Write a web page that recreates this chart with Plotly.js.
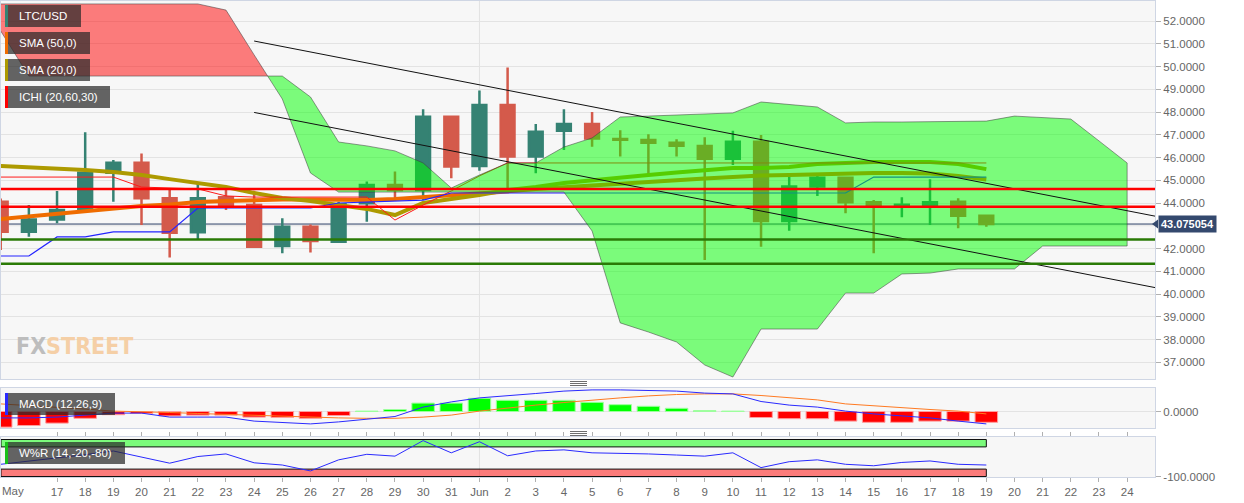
<!DOCTYPE html>
<html><head><meta charset="utf-8">
<script src="https://cdn.plot.ly/plotly-3.0.1.min.js"></script>
<style>html,body{margin:0;padding:0;background:#fff;}#chart{width:1244px;height:503px;}</style>
</head><body><div id="chart"></div>
<script>
// ---------- DATA ----------
const dates = ['2020-05-15','2020-05-16','2020-05-17','2020-05-18','2020-05-19','2020-05-20','2020-05-21','2020-05-22','2020-05-23','2020-05-24','2020-05-25','2020-05-26','2020-05-27','2020-05-28','2020-05-29','2020-05-30','2020-05-31','2020-06-01','2020-06-02','2020-06-03','2020-06-04','2020-06-05','2020-06-06','2020-06-07','2020-06-08','2020-06-09','2020-06-10','2020-06-11','2020-06-12','2020-06-13','2020-06-14','2020-06-15','2020-06-16','2020-06-17','2020-06-18','2020-06-19'];
const cloudDates = dates.concat(['2020-06-20','2020-06-21','2020-06-22','2020-06-23','2020-06-24']);
const open  = [44.06,42.74,43.28,43.72,45.33,45.77,44.21,42.71,44.25,43.91,42.11,42.96,42.30,43.99,44.79,44.57,47.79,45.63,48.31,46.04,47.18,47.47,46.81,46.77,46.65,46.51,45.95,46.69,43.21,44.72,45.11,44.03,43.90,43.91,44.06,43.44];
const high  = [44.20,43.91,44.53,47.11,45.89,46.18,44.57,44.87,44.72,44.54,43.33,43.06,44.05,44.94,45.38,48.12,47.82,48.94,49.96,47.47,48.12,48.00,47.20,47.02,46.80,46.89,47.18,46.99,45.23,45.31,45.16,44.13,44.25,45.04,44.21,43.44];
const low   = [41.93,42.52,43.11,43.69,44.06,43.03,41.61,42.40,43.69,42.03,41.79,41.82,42.25,43.18,44.21,44.13,45.09,45.42,44.57,45.31,46.33,46.47,46.04,45.23,46.04,41.49,45.67,42.08,42.78,44.31,43.55,41.79,43.37,43.03,42.89,42.96];
const close = [42.74,43.28,43.69,45.33,45.77,44.21,42.69,44.21,43.91,42.08,42.96,42.33,43.95,44.79,44.57,47.79,45.60,48.31,46.04,47.13,47.47,46.84,46.78,46.65,46.52,45.95,46.69,43.21,44.72,45.11,44.03,43.88,43.92,44.03,43.44,43.075054];
const sma50 = [43.30,43.41,43.52,43.63,43.74,43.87,43.93,44.04,44.09,44.13,44.15,44.15,44.13,44.13,44.18,44.26,44.33,44.40,44.51,44.62,44.70,44.79,44.88,44.95,45.01,45.08,45.14,45.21,45.23,45.27,45.32,45.32,45.32,45.30,45.19,45.03];
const sma20 = [45.63,45.58,45.52,45.45,45.36,45.23,45.05,44.88,44.70,44.44,44.22,44.09,43.91,43.74,43.47,44.00,44.18,44.35,44.57,44.70,44.88,45.01,45.12,45.23,45.34,45.45,45.54,45.54,45.58,45.71,45.76,45.80,45.80,45.80,45.71,45.49];
const tenkan = [45.14,45.14,45.14,45.14,45.14,44.70,44.66,44.62,44.31,44.26,44.26,44.26,44.26,44.26,43.25,43.91,44.53,45.19,45.76,45.76,45.76,45.76,45.76,45.76,45.76,45.76,45.76,45.76,45.76,45.76,45.76,45.76,45.76,45.76,45.76,45.76];
const kijun = [41.67,41.67,42.51,42.51,42.73,42.73,42.73,43.78,43.78,43.78,43.78,43.78,44.00,44.04,44.09,44.13,44.44,44.44,44.44,44.44,44.44,44.44,44.44,44.44,44.44,44.44,44.44,44.44,44.44,44.44,44.44,45.14,45.14,45.14,45.14,45.14];
const spanA = [51.56,49.58,49.58,49.58,49.58,49.58,49.58,49.58,49.58,49.58,49.58,48.66,46.68,46.51,46.29,45.76,44.66,45.23,45.76,45.76,46.46,46.86,47.78,47.82,47.87,47.91,47.96,48.44,48.33,48.22,47.52,47.56,47.56,47.58,47.60,47.60,47.82,47.76,47.69,46.73,45.76];
const spanB = [52.75,52.75,52.75,52.75,52.75,52.75,52.75,52.75,52.48,50.51,48.57,45.32,44.48,44.48,44.48,44.48,44.48,44.48,44.48,44.48,44.48,42.77,38.73,38.33,37.89,36.88,36.35,38.46,38.46,38.46,40.04,40.04,40.88,40.92,41.10,41.10,41.10,42.11,42.11,42.11,42.11];
const macd   = [-0.16,-0.16,-0.14,-0.09,-0.04,-0.04,-0.14,-0.14,-0.14,-0.24,-0.28,-0.31,-0.26,-0.20,-0.125,0.11,0.24,0.34,0.39,0.45,0.51,0.54,0.54,0.525,0.51,0.46,0.44,0.25,0.16,0.11,0.01,-0.06,-0.11,-0.16,-0.24,-0.31];
const signal = [0.19,0.15,0.11,0.06,0.01,0,-0.025,-0.05,-0.075,-0.10,-0.125,-0.15,-0.16,-0.17,-0.17,-0.14,-0.09,0.01,0.09,0.16,0.225,0.29,0.34,0.39,0.425,0.44,0.44,0.40,0.34,0.29,0.19,0.14,0.09,0.05,0.01,-0.06];
const hist   = [-0.39,-0.35,-0.29,-0.17,-0.08,-0.05,-0.11,-0.09,-0.09,-0.14,-0.15,-0.17,-0.10,0.01,0.05,0.21,0.21,0.33,0.28,0.28,0.28,0.23,0.17,0.13,0.08,0.02,0.01,-0.15,-0.18,-0.18,-0.24,-0.27,-0.27,-0.24,-0.24,-0.27];
const wpr    = [-67,-59,-51,-41,-31,-48,-64,-46,-39,-63,-69,-85,-55,-40,-45,-3,-36,-6,-44,-31,-28,-36,-37,-39,-42,-45,-36,-76,-60,-55,-67,-71,-62,-58,-67,-69];
const resistanceLevels = [44.62, 43.84];
const supportLevels = [42.40, 41.33];
const lastPrice = 43.075054;
const trendUpper = {x:['2020-05-24','2020-06-25'], y:[51.12, 43.42]};
const trendLower = {x:['2020-05-24','2020-06-25'], y:[47.98, 40.28]};
const priceTicks = [37,38,39,40,41,42,44,45,46,47,48,49,50,51,52];
const tickDates  = ['2020-05-15','2020-05-17','2020-05-18','2020-05-19','2020-05-20','2020-05-21','2020-05-22','2020-05-23','2020-05-24','2020-05-25','2020-05-26','2020-05-27','2020-05-28','2020-05-29','2020-05-30','2020-05-31','2020-06-01','2020-06-02','2020-06-03','2020-06-04','2020-06-05','2020-06-06','2020-06-07','2020-06-08','2020-06-09','2020-06-10','2020-06-11','2020-06-12','2020-06-13','2020-06-14','2020-06-15','2020-06-16','2020-06-17','2020-06-18','2020-06-19','2020-06-20','2020-06-21','2020-06-22','2020-06-23','2020-06-24'];
const tickLabels = ['','17','18','19','20','21','22','23','24','25','26','27','28','29','30','31','Jun','2','3','4','5','6','7','8','9','10','11','12','13','14','15','16','17','18','19','20','21','22','23','24'];
const legendItems = ['LTC/USD','SMA (50,0)','SMA (20,0)','ICHI (20,60,30)'];
const macdLabel = 'MACD (12,26,9)';
const wprLabel = 'W%R (14,-20,-80)';

// ---------- LAYOUT HELPERS ----------
const L=1, R=89, T=1, B=26;
const W = 1244-L-R, H = 503-T-B;
const px = x => (x-L)/W;
const py = y => (503-B-y)/H;
const FONT = 'Liberation Sans, Arial, sans-serif';
const xRange = ['2020-05-15 00:15','2020-06-24 23:45'];

// ---------- CLOUD SEGMENTS ----------
function cloudSegments(ds, a, b){
  const t = ds.map(d => Date.parse(d));
  const segs = [];
  let cur = {green: a[0] >= b[0], xa:[t[0]], ya:[a[0]], yb:[b[0]]};
  for (let i=0;i<t.length-1;i++){
    const d0 = a[i]-b[i], d1 = a[i+1]-b[i+1];
    if ((d0 >= 0) !== (d1 >= 0)){
      const f = d0/(d0-d1);
      const tc = t[i] + f*(t[i+1]-t[i]);
      const vc = a[i] + f*(a[i+1]-a[i]);
      cur.xa.push(tc); cur.ya.push(vc); cur.yb.push(vc);
      segs.push(cur);
      cur = {green: d1 >= 0, xa:[tc], ya:[vc], yb:[vc]};
    }
    cur.xa.push(t[i+1]); cur.ya.push(a[i+1]); cur.yb.push(b[i+1]);
  }
  segs.push(cur);
  return segs;
}

const traces = [];
traces.push({type:'candlestick', x:dates, open:open, high:high, low:low, close:close, xaxis:'x', yaxis:'y',
  increasing:{line:{color:'#358273', width:2.5}, fillcolor:'#358273'},
  decreasing:{line:{color:'#d45a4b', width:2.5}, fillcolor:'#d45a4b'},
  whiskerwidth:0, hoverinfo:'skip', showlegend:false});
traces.push({type:'scatter', mode:'lines', x:dates, y:sma50, line:{color:'#ef6c00', width:4}, hoverinfo:'skip', showlegend:false});
traces.push({type:'scatter', mode:'lines', x:dates, y:sma20, line:{color:'#ad9a00', width:4}, hoverinfo:'skip', showlegend:false});
traces.push({type:'scatter', mode:'lines', x:dates, y:tenkan, line:{color:'#ff1a1a', width:1}, hoverinfo:'skip', showlegend:false});
traces.push({type:'scatter', mode:'lines', x:dates, y:kijun, line:{color:'#2424ff', width:1.2}, hoverinfo:'skip', showlegend:false});
cloudSegments(cloudDates, spanA, spanB).forEach(s => {
  traces.push({type:'scatter', mode:'lines', x:s.xa.concat(s.xa.slice().reverse()), y:s.ya.concat(s.yb.slice().reverse()),
    fill:'toself', fillcolor: s.green ? 'rgba(0,255,0,0.5)' : 'rgba(255,0,0,0.5)',
    line:{color:'rgba(60,60,60,0.75)', width:0.7}, hoverinfo:'skip', showlegend:false});
});
[trendUpper, trendLower].forEach(tl => traces.push({type:'scatter', mode:'lines', x:tl.x, y:tl.y, line:{color:'#111', width:1}, hoverinfo:'skip', showlegend:false}));
// MACD
traces.push({type:'bar', x:dates, y:hist, xaxis:'x', yaxis:'y2',
  marker:{color: hist.map(v => v >= 0 ? '#00ff00' : '#ff0000'), line:{color: hist.map(v => v>=0 ? '#9dff9d' : '#ff9d9d'), width:1}},
  hoverinfo:'skip', showlegend:false});
traces.push({type:'scatter', mode:'lines', x:dates, y:signal, xaxis:'x', yaxis:'y2', line:{color:'#ff7a22', width:1}, hoverinfo:'skip', showlegend:false});
traces.push({type:'scatter', mode:'lines', x:dates, y:macd, xaxis:'x', yaxis:'y2', line:{color:'#2a2aff', width:1}, hoverinfo:'skip', showlegend:false});
// W%R
traces.push({type:'scatter', mode:'lines', x:dates, y:wpr, xaxis:'x', yaxis:'y3', line:{color:'#2a2aff', width:1}, hoverinfo:'skip', showlegend:false});

// ---------- SHAPES ----------
const shapes = [];
['y','y2','y3'].forEach(ax => shapes.push({type:'line', xref:'x', yref: ax+' domain', x0:'2020-06-01', x1:'2020-06-01', y0:0, y1:1, line:{color:'#e2e2e2', width:1}, layer:'below'}));
shapes.push({type:'line', xref:'paper', yref:'y', x0:0, x1:1, y0:43, y1:43, line:{color:'#e3e3e3', width:1}, layer:'below'});
shapes.push({type:'line', xref:'paper', yref:'y', x0:0, x1:1, y0:lastPrice, y1:lastPrice, line:{color:'#2c3e66', width:1}, layer:'below'});
shapes.push({type:'rect', xref:'x', yref:'y3', x0:xRange[0], x1:dates[dates.length-1], y0:-20, y1:0, fillcolor:'rgba(0,255,0,0.5)', line:{color:'#111', width:1}, layer:'below'});
shapes.push({type:'rect', xref:'x', yref:'y3', x0:xRange[0], x1:dates[dates.length-1], y0:-100, y1:-80, fillcolor:'rgba(255,0,0,0.5)', line:{color:'#111', width:1}, layer:'below'});
resistanceLevels.forEach(v => shapes.push({type:'line', xref:'paper', yref:'y', x0:0, x1:1, y0:v, y1:v, line:{color:'#ff0000', width:2.5}, layer:'above'}));
supportLevels.forEach(v => shapes.push({type:'line', xref:'paper', yref:'y', x0:0, x1:1, y0:v, y1:v, line:{color:'#2a7a06', width:2.5}, layer:'above'}));
shapes.push({type:'path', xref:'paper', yref:'y', path:`M ${px(1152)} ${lastPrice} L ${px(1158)} ${lastPrice+0.2} L ${px(1158)} ${lastPrice-0.2} Z`, fillcolor:'#34496e', line:{width:0}, layer:'above'});
[[381.5,383.5,385.5],[431.5,433.5,435.5]].forEach(g => g.forEach(y => shapes.push({type:'line', xref:'paper', yref:'paper', x0:px(570), x1:px(587), y0:py(y), y1:py(y), line:{color:'#6e6e6e', width:1}})));
const annotations = [];
// watermark
annotations.push({xref:'paper', yref:'paper', x:px(14), y:py(346), xanchor:'left', yanchor:'middle', showarrow:false,
  text:'<b><span style="color:#bdbdbd">FX</span><span style="color:#f5cfa6">STREET</span></b>',
  font:{family:'Liberation Sans Narrow, DejaVu Sans Condensed, Arial Narrow, sans-serif', size:23, color:'#bdbdbd'}});
const legendColors = ['#358273','#ef6c00','#ad9a00','#ff0000'];
const legendBoxes = [[5,81,5,27],[5,90,32,54],[5,90,59,81],[5,110,86,108]];
function addBox(b, color, text){
  shapes.push({type:'rect', xref:'paper', yref:'paper', x0:px(b[0]), x1:px(b[1]), y0:py(b[3]), y1:py(b[2]), fillcolor:'rgba(42,42,42,0.72)', line:{width:0}, layer:'above'});
  shapes.push({type:'rect', xref:'paper', yref:'paper', x0:px(b[0]), x1:px(b[0]+3), y0:py(b[3]), y1:py(b[2]), fillcolor:color, line:{width:0}, layer:'above'});
  annotations.push({xref:'paper', yref:'paper', x:px(b[0]+12), y:py((b[2]+b[3])/2), xanchor:'left', yanchor:'middle', text:text, showarrow:false, font:{family:FONT, size:11.5, color:'#ffffff'}});
}
legendItems.forEach((t,i) => addBox(legendBoxes[i], legendColors[i], t));
addBox([5,115,393,415], '#2a2aff', macdLabel);
addBox([5,125,442,464], '#19c019', wprLabel);
annotations.push({xref:'paper', yref:'paper', x:px(0), y:py(491), xanchor:'left', yanchor:'middle', text:'May', showarrow:false, font:{family:FONT, size:11.5, color:'#666'}});
annotations.push({xref:'paper', yref:'y', x:1, xshift:3, y:lastPrice, xanchor:'left', yanchor:'middle', text:'<b>'+lastPrice.toFixed(6)+'</b>', showarrow:false, bgcolor:'#34496e', borderpad:2, font:{family:FONT, size:11, color:'#ffffff'}});

const yCommon = {side:'right', anchor:'x', showline:true, mirror:true, linecolor:'#cfd6e4', gridcolor:'#e3e3e3', ticks:'outside', ticklen:5, tickcolor:'#b0b0b0', zeroline:false, tickfont:{family:FONT, size:11.5, color:'#666'}, fixedrange:true};

const layout = {
  width:1244, height:503, margin:{l:L, r:R, t:T, b:B}, paper_bgcolor:'#ffffff', plot_bgcolor:'#f7f7f7',
  showlegend:false, hovermode:false, boxgap:0.3, bargap:0.2,
  xaxis:{type:'date', range:xRange, anchor:'y3', tickvals:tickDates, ticktext:tickLabels, ticks:'outside', ticklen:4, tickcolor:'#b0b0b0',
    tickfont:{family:FONT, size:11.5, color:'#666'}, showgrid:false, showline:true, linecolor:'#cfd6e4', mirror:'all', zeroline:false, rangeslider:{visible:false}, fixedrange:true},
  yaxis: Object.assign({}, yCommon, {domain:[py(379),1], range:[36.264,52.879], tickvals:priceTicks, tickformat:'.4f'}),
  yaxis2: Object.assign({}, yCommon, {domain:[py(428),py(388)], range:[-0.4125,0.5875], tickvals:[0], ticktext:['0.0000']}),
  yaxis3: Object.assign({}, yCommon, {domain:[0,py(437)], range:[-101.35,6.76], tickvals:[-100], ticktext:['-100.0000']}),
  shapes:shapes, annotations:annotations
};
Plotly.newPlot('chart', traces, layout, {staticPlot:true, displayModeBar:false});
</script>
</body></html>
